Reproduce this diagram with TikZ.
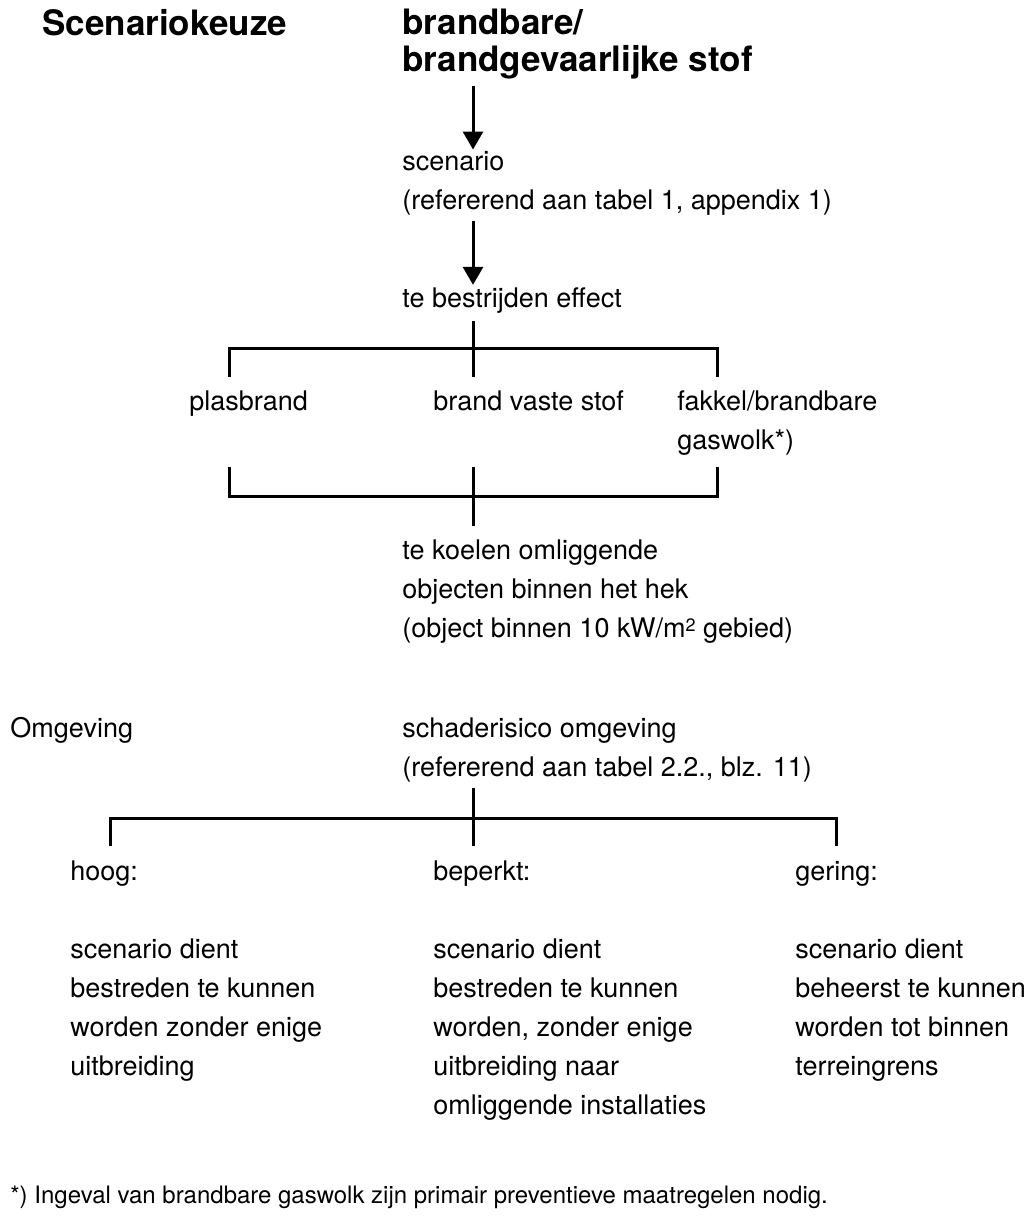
\documentclass[tikz,border=0pt]{standalone}
\usepackage{fontspec}
\setmainfont{TeX Gyre Heros}
\usetikzlibrary{arrows.meta,calc}
\newcommand{\bodysize}{\fontsize{13.5}{19.5}\selectfont}
\newcommand{\headsize}{\fontsize{17.5}{18.5}\selectfont\bfseries}
\newcommand{\notesize}{\fontsize{12}{14}\selectfont}
\tikzset{>={Triangle[width=10pt,length=9pt]}}
% base west = baseline of the last line
\tikzset{txt/.style={anchor=base west, inner sep=0pt, align=left, font=\bodysize},
  head/.style={txt, font=\headsize},
  note/.style={txt, font=\notesize},
  conn/.style={line width=1.5pt}}
\begin{document}
\begin{tikzpicture}[x=0.5pt,y=-0.5pt]
  \useasboundingbox (0,0) rectangle (1032,1222);%
  % headings
  \node[head] (title) at (42,35) {Scenariokeuze};%
  \node[head] (stof) at (402,71) {brandbare/\\brandgevaarlijke stof};%
  % main column
  \coordinate (spine) at (473,0);%
  \node[txt] (scen) at (402,209) {scenario\\(refererend aan tabel 1, appendix 1)};%
  \node[txt] (effect) at (402,307) {te bestrijden effect};%
  \draw[conn, ->, shorten <=3.5pt, shorten >=0.5pt] (stof.south -| spine) -- (scen.north -| spine);%
  \draw[conn, ->, shorten <=3pt, shorten >=1pt] (scen.south -| spine) -- (effect.north -| spine);%
  % effects
  \node[txt] (plas) at (189,410) {plasbrand};%
  \node[txt] (vast) at (433,410) {brand vaste stof};%
  \node[txt] (fakkel) at (677,449) {fakkel/brandbare\\gaswolk*)};%
  \coordinate (j1) at (473,348);%
  \coordinate (d1) at (229,377);%
  \coordinate (d2) at (473,377);%
  \coordinate (d3) at (717,377);%
  \draw[conn, shorten <=4pt] (effect.south -| j1) -- (d2);%
  \draw[conn] (d1) |- (j1) -| (d3);%
  % cooling
  \node[txt] (koel) at (402,637) {te koelen omliggende\\objecten binnen het hek\\(object binnen 10 kW/m{\raisebox{0.4ex}{\fontsize{9}{9}\selectfont 2}} gebied)};%
  \coordinate (u1) at (229,467);%
  \coordinate (u2) at (473,467);%
  \coordinate (u3) at (717,467);%
  \coordinate (j2) at (473,496);%
  \draw[conn] (u1) |- (j2) -| (u3);%
  \draw[conn, shorten >=6.5pt] (u2) -- (koel.north -| j2);%
  % surroundings
  \node[txt] (omg) at (10,737) {Omgeving};%
  \node[txt] (risk) at (402,776) {schaderisico omgeving\\(refererend aan tabel 2.2., blz. 11)};%
  \coordinate (j3) at (473,818);%
  \coordinate (e1) at (110,846);%
  \coordinate (e2) at (473,846);%
  \coordinate (e3) at (836,846);%
  \draw[conn, shorten <=3pt] (risk.south -| j3) -- (e2);%
  \draw[conn] (e1) |- (j3) -| (e3);%
  \node[txt] (hoog) at (70,880) {hoog:};%
  \node[txt] (beperkt) at (433,880) {beperkt:};%
  \node[txt] (gering) at (795,880) {gering:};%
  \node[txt] (hoogtxt) at (70,1075) {scenario dient\\bestreden te kunnen\\worden zonder enige\\uitbreiding};%
  \node[txt] (beperkttxt) at (433,1114) {scenario dient\\bestreden te kunnen\\worden, zonder enige\\uitbreiding naar\\omliggende installaties};%
  \node[txt] (geringtxt) at (795,1075) {scenario dient\\beheerst te kunnen\\worden tot binnen\\terreingrens};%
  % footnote
  \node[note] (voetnoot) at (10,1203) {*) Ingeval van brandbare gaswolk zijn primair preventieve maatregelen nodig.};%
\end{tikzpicture}
\end{document}
